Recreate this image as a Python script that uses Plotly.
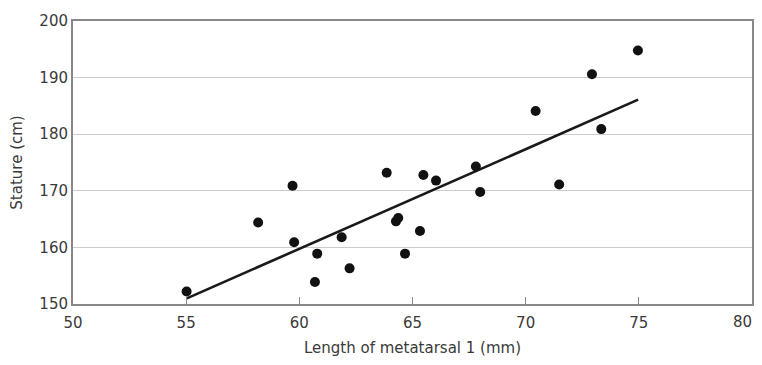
import plotly.graph_objects as go

# Data
metatarsal_mm = [55.02, 58.18, 59.70, 59.77, 60.79, 60.69, 61.87, 62.22, 63.86, 64.27, 64.37,
                 64.67, 65.33, 65.48, 66.04, 67.80, 67.99, 70.44, 71.48, 72.93, 73.34, 74.96]
stature_cm = [152.2, 164.4, 170.9, 160.9, 158.9, 153.9, 161.8, 156.3, 173.2, 164.6, 165.2,
              158.9, 162.9, 172.8, 171.8, 174.3, 169.8, 184.1, 171.1, 190.6, 180.9, 194.8]
fit_x = [55.03, 74.97]
fit_y = [151.0, 186.1]

x_ticks = [50, 55, 60, 65, 70, 75, 80]
y_ticks = [150, 160, 170, 180, 190, 200]

fig = go.Figure()
fig.add_trace(go.Scatter(x=fit_x, y=fit_y, mode="lines",
                         line=dict(color="#1a1a1a", width=2.6), showlegend=False))
fig.add_trace(go.Scatter(x=metatarsal_mm, y=stature_cm, mode="markers",
                         marker=dict(color="#111111", size=10), showlegend=False))

font = "DejaVu Sans, Liberation Sans, Arial, sans-serif"
txt = "#3a3a3a"
fig.update_layout(
    width=746, height=349,
    margin=dict(l=65, r=2, t=13, b=53),
    paper_bgcolor="white", plot_bgcolor="white",
    font=dict(family=font, size=15, color=txt),
    xaxis=dict(range=[50, 80], tickvals=x_ticks[:-1], ticks="inside", ticklen=7,
               tickcolor="#888888", tickwidth=1.2, showgrid=False, zeroline=False,
               showline=True, linecolor="#888888", linewidth=2, mirror=True,
               ticklabelstandoff=4, automargin=False,
               title=dict(text="Length of metatarsal 1 (mm)", standoff=17,
                          font=dict(size=15, color=txt))),
    yaxis=dict(range=[150, 200], tickvals=y_ticks, ticks="", showgrid=True,
               gridcolor="#cccccc", gridwidth=1, zeroline=False,
               showline=True, linecolor="#888888", linewidth=2, mirror=True,
               automargin=False,
               title=dict(text="Stature (cm)", standoff=13,
                          font=dict(size=15, color=txt))),
)
# last tick label would overflow the page edge, so draw it as an annotation
fig.add_annotation(x=x_ticks[-1], xref="x", y=0, yref="paper", text=str(x_ticks[-1]),
                   showarrow=False, xanchor="right", yanchor="top", xshift=2, yshift=-7,
                   font=dict(family=font, size=15, color=txt))

fig.write_html("out.html", config={"displayModeBar": False})
